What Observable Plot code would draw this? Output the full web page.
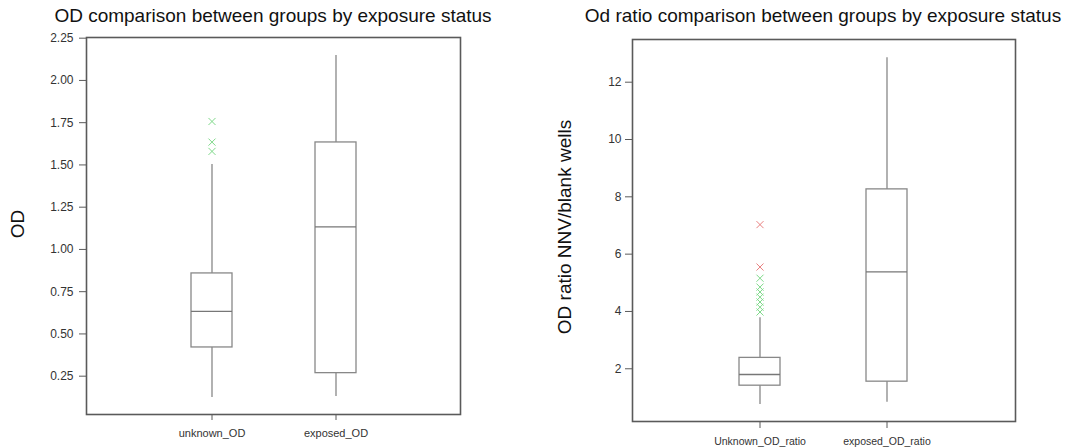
<!DOCTYPE html>
<html>
<head>
<meta charset="utf-8">
<script src="https://cdn.jsdelivr.net/npm/d3@7"></script>
<script src="https://cdn.jsdelivr.net/npm/@observablehq/plot@0.6"></script>
<style>
  html, body { margin: 0; padding: 0; background: #fff; }
  #wrap { position: relative; width: 1075px; height: 448px; overflow: hidden; font-family: "Liberation Sans", Arial, sans-serif; }
  .panel { position: absolute; top: 0; }
  .title { position: absolute; top: 5px; font-size: 19px; color: #111; white-space: nowrap; transform: translateX(-50%); }
  .ylab { position: absolute; font-size: 19px; color: #111; white-space: nowrap; transform: translate(-50%, -50%) rotate(-90deg); }
</style>
</head>
<body>
<div id="wrap">
  <div class="panel" id="left" style="left:0px"></div>
  <div class="panel" id="right" style="left:537px"></div>
  <div class="title" style="left:273px">OD comparison between groups by exposure status</div>
  <div class="title" style="left:823px">Od ratio comparison between groups by exposure status</div>
  <div class="ylab" style="left:18px; top:224px">OD</div>
  <div class="ylab" style="left:565px; top:227px">OD ratio NNV/blank wells</div>
</div>
<script>
// ---- Left panel data (OD) ----
const leftCats = ["unknown_OD", "exposed_OD"];
const leftQ1 = [0.42, 0.268];
const leftMedian = [0.633, 1.134];
const leftQ3 = [0.858, 1.633];
const leftLow = [0.124, 0.13];
const leftHigh = [1.503, 2.148];
const leftOutCat = ["unknown_OD", "unknown_OD", "unknown_OD"];
const leftOutVal = [1.757, 1.635, 1.58];
const leftOutType = ["mild", "mild", "mild"];
const leftTicks = [0.25, 0.5, 0.75, 1.0, 1.25, 1.5, 1.75, 2.0, 2.25];

// ---- Right panel data (OD ratio) ----
const rightCats = ["Unknown_OD_ratio", "exposed_OD_ratio"];
const rightQ1 = [1.41, 1.55];
const rightMedian = [1.80, 5.38];
const rightQ3 = [2.38, 8.26];
const rightLow = [0.755, 0.83];
const rightHigh = [3.78, 12.85];
const rightOutCat = ["Unknown_OD_ratio","Unknown_OD_ratio","Unknown_OD_ratio","Unknown_OD_ratio","Unknown_OD_ratio","Unknown_OD_ratio","Unknown_OD_ratio","Unknown_OD_ratio","Unknown_OD_ratio"];
const rightOutVal = [7.03, 5.55, 5.16, 4.85, 4.68, 4.50, 4.33, 4.15, 3.98];
const rightOutType = ["extreme", "extreme", "mild", "mild", "mild", "mild", "mild", "mild", "mild"];
const rightTicks = [2, 4, 6, 8, 10, 12];

const outColors = {mild: "#7fd98a", extreme: "#e88080"};

function boxPlot(cats, q1, med, q3, lo, hi, outCat, outVal, outType, opts) {
  const boxes = cats.map((c, i) => ({cat: c, q1: q1[i], med: med[i], q3: q3[i], lo: lo[i], hi: hi[i]}));
  const outs = outCat.map((c, i) => ({cat: c, v: outVal[i], t: outType[i]}));
  return Plot.plot({
    width: opts.width,
    height: 448,
    marginLeft: opts.ml,
    marginRight: opts.mr,
    marginTop: opts.mt,
    marginBottom: opts.mb,
    style: {fontFamily: '"Liberation Sans", Arial, sans-serif', color: "#333", background: "transparent"},
    x: {type: "band", domain: cats, paddingInner: opts.pi, paddingOuter: opts.po, align: 0.5, label: null},
    y: {domain: opts.ydomain, label: null},
    marks: [
      Plot.ruleX(boxes, {x: "cat", y1: "lo", y2: "hi", stroke: "#888", strokeWidth: 1.3}),
      Plot.barY(boxes, {x: "cat", y1: "q1", y2: "q3", fill: "white", stroke: "#888", strokeWidth: 1.3}),
      Plot.tickY(boxes, {x: "cat", y: "med", stroke: "#777", strokeWidth: 1.3}),
      Plot.dot(outs, {x: "cat", y: "v", symbol: "times", r: 3.3, stroke: d => outColors[d.t], strokeWidth: 1}),
      Plot.frame({stroke: "#5a5a5a", strokeWidth: 1.6}),
      Plot.axisY({ticks: opts.yticks, tickFormat: opts.yfmt, tickSize: 7, tickPadding: opts.ytp, fontSize: 12, stroke: "#5a5a5a", label: null}),
      Plot.axisX({tickSize: opts.xts, tickPadding: opts.xtp, fontSize: opts.xfs, stroke: "#5a5a5a", label: null})
    ]
  });
}

document.getElementById("left").appendChild(boxPlot(
  leftCats, leftQ1, leftMedian, leftQ3, leftLow, leftHigh, leftOutCat, leftOutVal, leftOutType,
  {width: 537, ml: 86, mr: 77, mt: 37, mb: 34, pi: 0.671, po: 0.8355,
   ydomain: [0.0233, 2.254], yticks: leftTicks, yfmt: d => d.toFixed(2), ytp: 6, xts: 6, xtp: 9, xfs: 11}
));

document.getElementById("right").appendChild(boxPlot(
  rightCats, rightQ1, rightMedian, rightQ3, rightLow, rightHigh, rightOutCat, rightOutVal, rightOutType,
  {width: 538, ml: 95, mr: 60, mt: 39, mb: 27, pi: 0.675, po: 0.8375,
   ydomain: [0.16, 13.49], yticks: rightTicks, yfmt: d => String(d), ytp: 4, xts: 7, xtp: 9, xfs: 10.5}
));
</script>
</body>
</html>
